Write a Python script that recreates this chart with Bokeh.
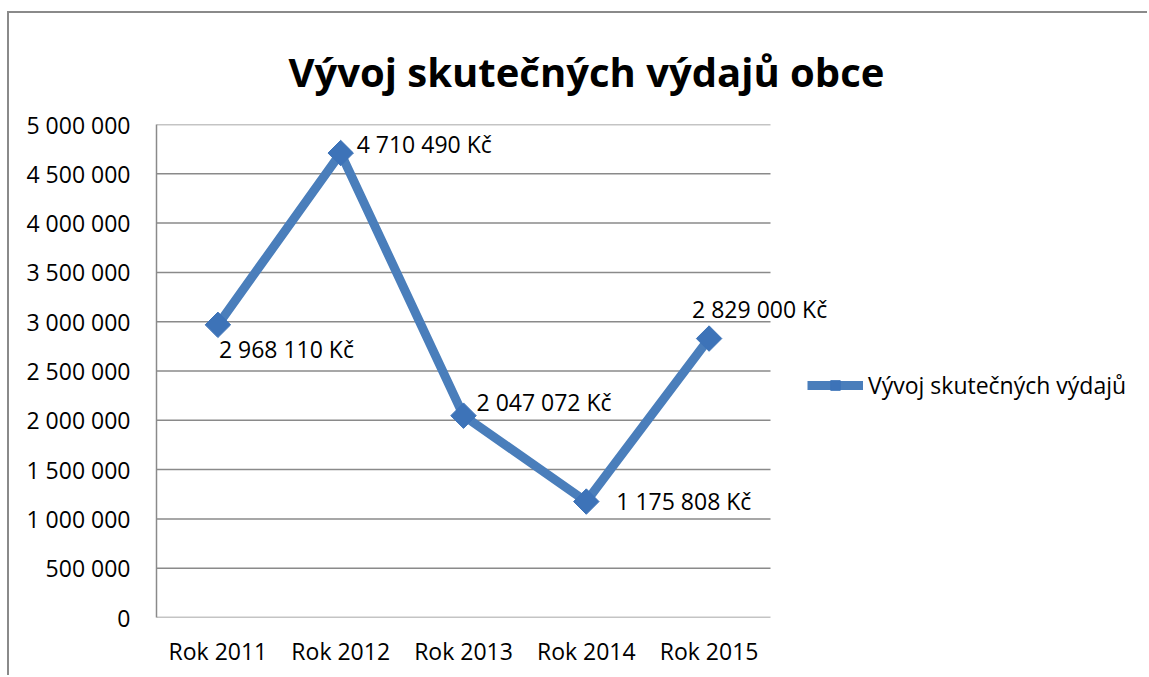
import math
from bokeh.plotting import figure
from bokeh.models import ColumnDataSource, Range1d, FixedTicker, Legend, LegendItem, Title, LabelSet
from bokeh.core.properties import value
from bokeh.embed import file_html
from bokeh.resources import INLINE

# ---- data ----
years = ["Rok 2011", "Rok 2012", "Rok 2013", "Rok 2014", "Rok 2015"]
spending = [2968110, 4710490, 2047072, 1175808, 2829000]
value_labels = ["2 968 110 Kč", "4 710 490 Kč", "2 047 072 Kč", "1 175 808 Kč", "2 829 000 Kč"]
y_ticks = [0, 500000, 1000000, 1500000, 2000000, 2500000, 3000000, 3500000, 4000000, 4500000, 5000000]
y_tick_labels = ["0", "500 000", "1 000 000", "1 500 000", "2 000 000", "2 500 000",
                 "3 000 000", "3 500 000", "4 000 000", "4 500 000", "5 000 000"]
series_name = "Vývoj skutečných výdajů"
title_text = "Vývoj skutečných výdajů obce"

# ---- label placement (pixel offsets, style only) ----
label_dx = [1, 16, 13, 30, -17]
label_dy = [-24, 9, 14, 1, 30]

FONT = "Open Sans"
BLUE = "#4a7ebb"
GRID = "#8a8a8a"

# layout constants
W, H = 1140, 664
MB_LEFT, MB_TOP, MB_RIGHT, MB_BOTTOM = 147, 111, 10, 60
CAT_PX = 122.8  # pixels per category slot
frame_w = W - MB_LEFT - MB_RIGHT

xs = [i + 0.5 for i in range(len(years))]
source = ColumnDataSource(dict(x=xs, y=spending, t=value_labels, dx=label_dx, dy=label_dy))

p = figure(width=W, height=H, x_range=Range1d(0, frame_w / CAT_PX), y_range=Range1d(0, 5000000),
           output_backend="svg", toolbar_location=None,
           min_border_left=MB_LEFT, min_border_right=MB_RIGHT, min_border_top=MB_TOP,
           min_border_bottom=MB_BOTTOM)
p.outline_line_color = None
p.background_fill_color = "white"
p.border_fill_color = "white"
p.styles = {"margin-left": "7px", "margin-top": "11px",
            "border-top": "2px solid #8a8a8a", "border-left": "2px solid #8a8a8a",
            "border-right": "none", "border-bottom": "none", "outline": "none"}

t = Title(text=title_text, text_font=FONT, text_font_size="40px", text_font_style="bold",
          text_color="black", align="left", offset=132, standoff=52)
p.add_layout(t, "above")

# axes
p.yaxis.ticker = FixedTicker(ticks=y_ticks)
p.yaxis.major_label_overrides = {v: s for v, s in zip(y_ticks, y_tick_labels)}
p.xaxis.ticker = FixedTicker(ticks=xs)
p.xaxis.major_label_overrides = {v: s for v, s in zip(xs, years)}
for ax in (p.xaxis[0], p.yaxis[0]):
    ax.axis_line_color = GRID
    ax.axis_line_width = 1.5
    ax.major_tick_line_color = None
    ax.minor_tick_line_color = None
    ax.major_tick_out = 0
    ax.major_tick_in = 0
    ax.major_label_text_font = FONT
    ax.major_label_text_font_size = "23px"
    ax.major_label_text_color = "black"
p.xaxis.axis_line_color = None
p.yaxis.major_label_standoff = 26
p.xaxis.major_label_standoff = 17

p.xgrid.grid_line_color = None
p.ygrid.grid_line_color = None

# horizontal gridlines (incl. category axis line), limited to the category slots
n = len(years)
p.segment(x0=[0] * len(y_ticks), x1=[n] * len(y_ticks), y0=y_ticks, y1=y_ticks,
          line_color=GRID, line_width=1.5)

line = p.line("x", "y", source=source, line_color=BLUE, line_width=9, line_join="round")
pts = p.scatter("x", "y", source=source, marker="square", size=18, angle=math.pi / 4,
                fill_color="#3d73b8", line_color="#3d73b8")

labels = LabelSet(x="x", y="y", text="t", source=source, x_offset="dx", y_offset="dy",
                  text_font=value(FONT), text_font_size=value("23px"), text_color="black",
                  text_align="left", text_baseline="middle")
p.add_layout(labels)

legend = Legend(items=[LegendItem(label=series_name, renderers=[line, pts])],
                location=(651, 216), orientation="vertical",
                label_text_font=FONT, label_text_font_size="23px", label_text_color="black",
                glyph_width=56, glyph_height=24, label_standoff=5,
                border_line_color=None, background_fill_alpha=0, padding=0, margin=0)
p.add_layout(legend, "center")

open("out.html", "w").write(file_html(p, INLINE))
